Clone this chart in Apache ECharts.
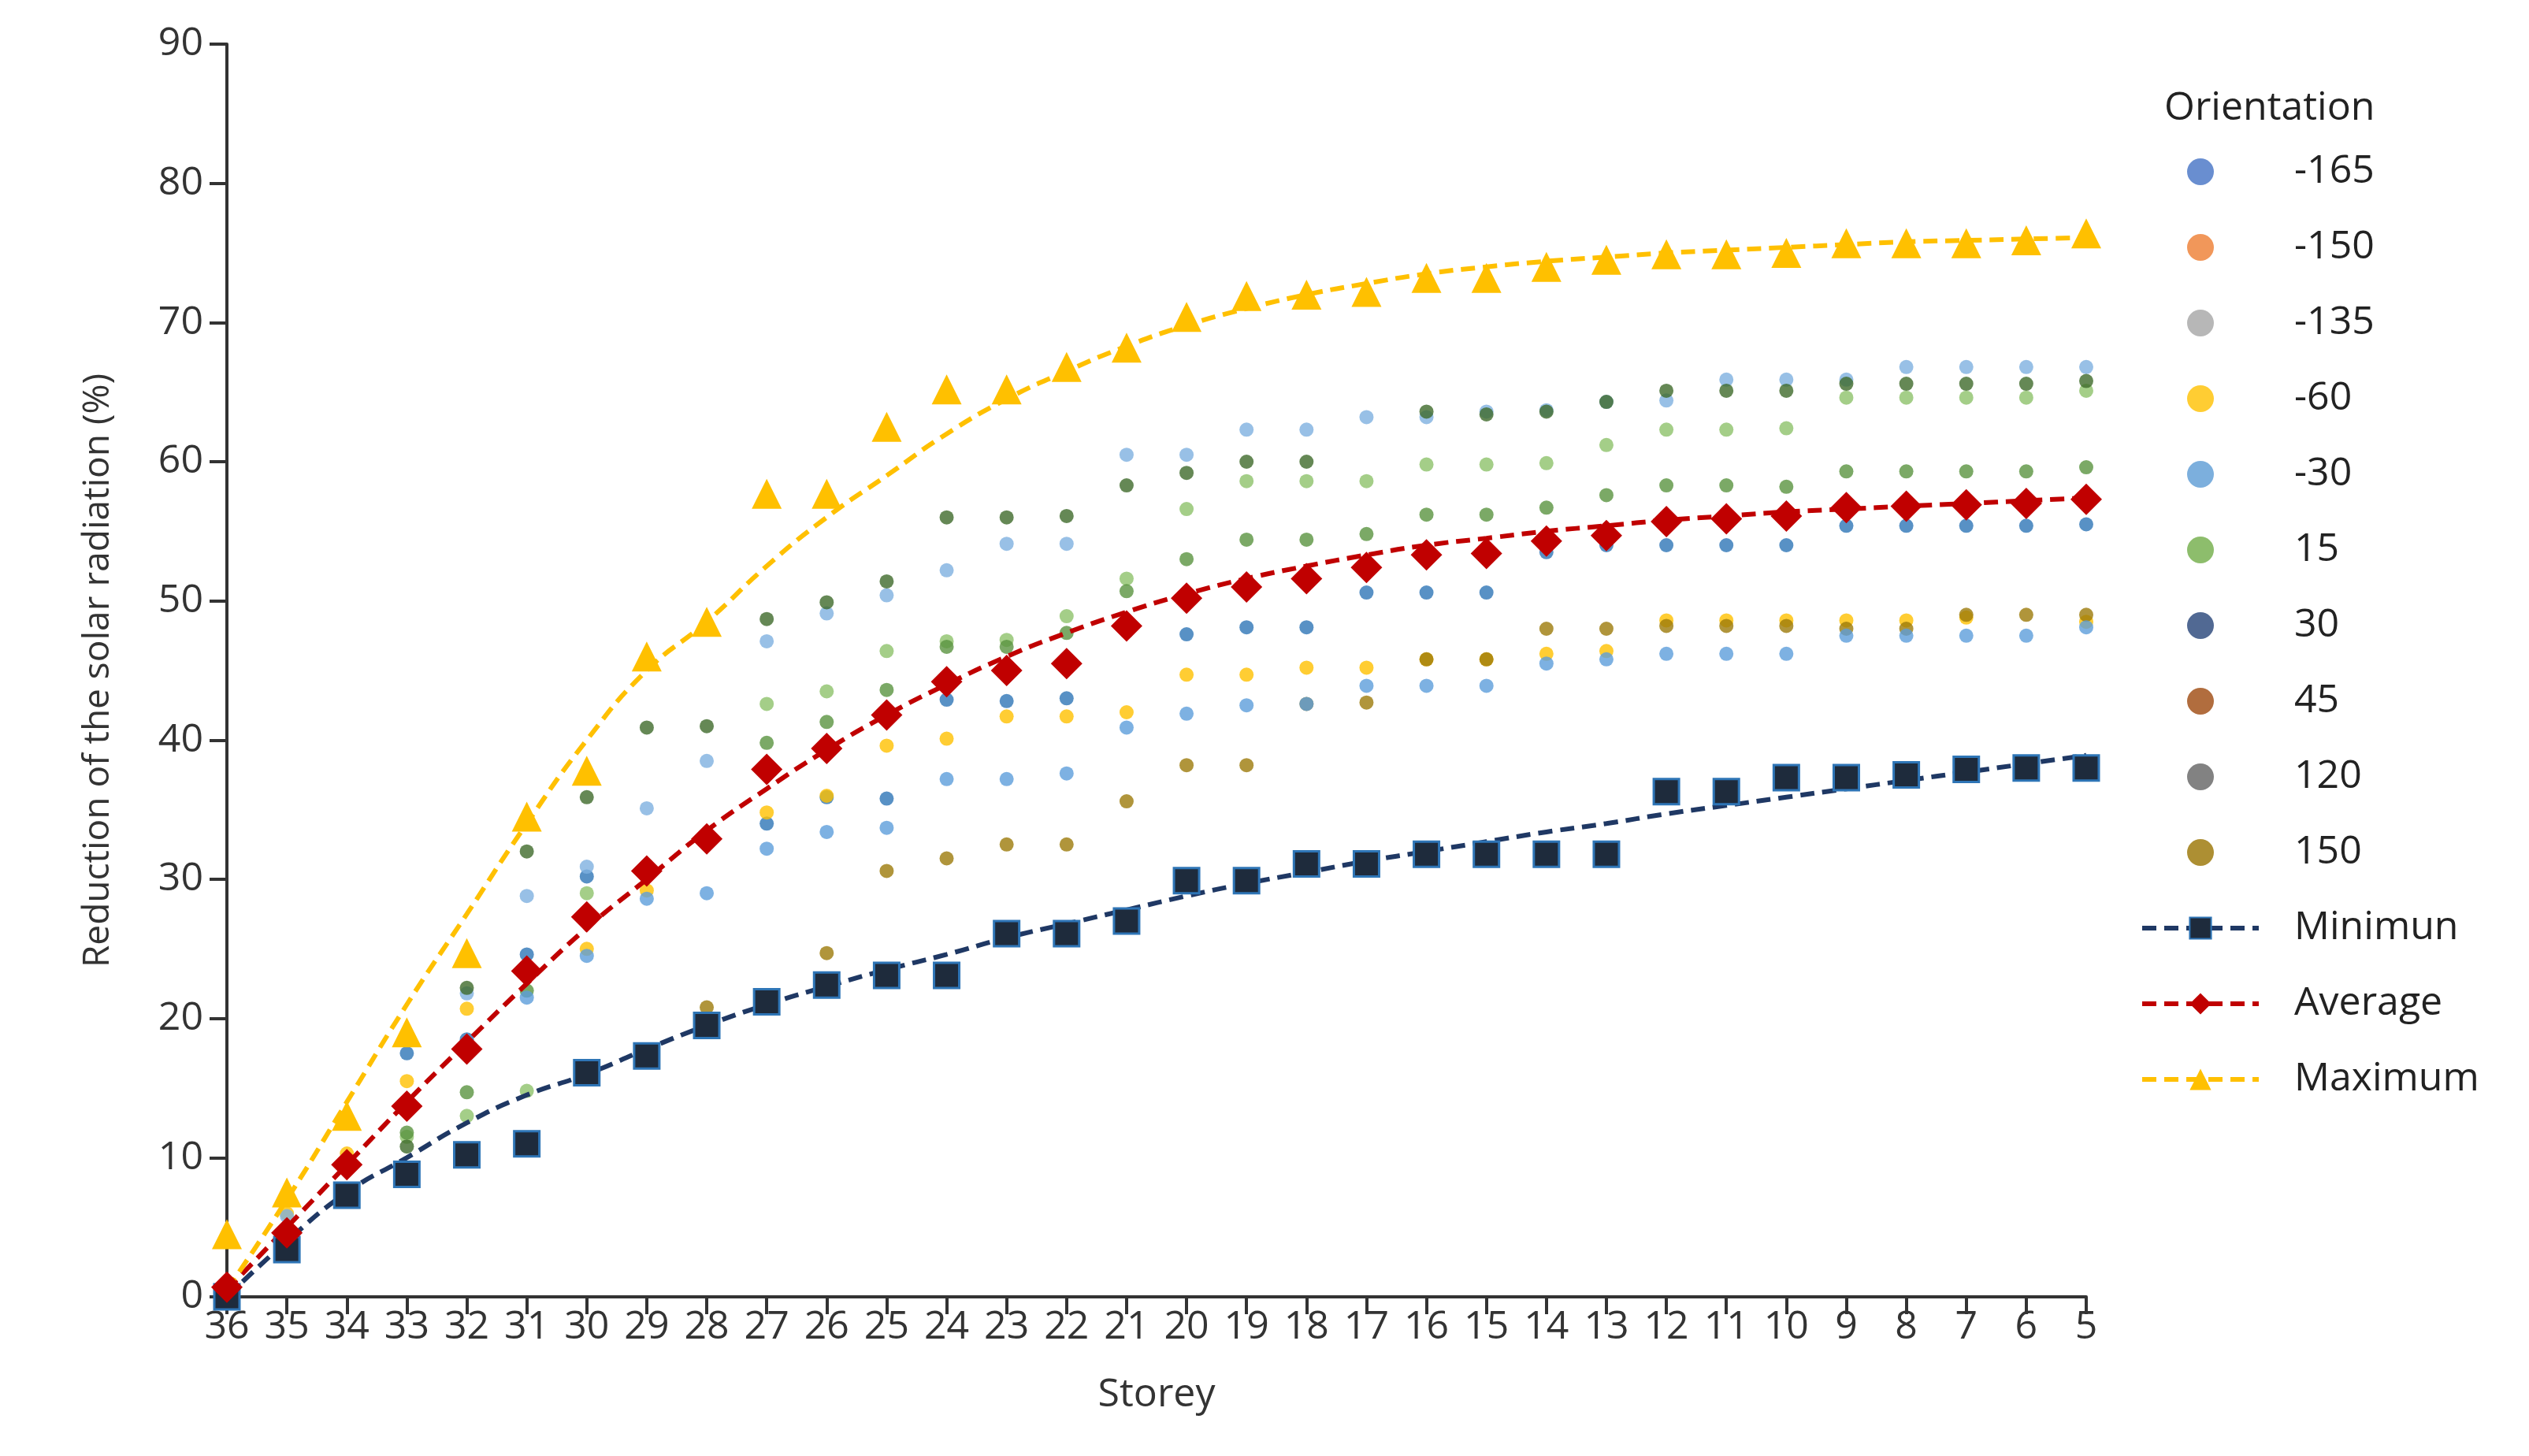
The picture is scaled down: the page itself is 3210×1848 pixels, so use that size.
<!DOCTYPE html>
<html><head><meta charset="utf-8">
<script src="https://cdn.jsdelivr.net/npm/echarts@6/dist/echarts.min.js"></script>
<style>html,body{margin:0;padding:0;background:#fff}#c{width:3210px;height:1848px}</style>
</head><body><div id="c"></div>
<script>
const storeys=['36','35','34','33','32','31','30','29','28','27','26','25','24','23','22','21','20','19','18','17','16','15','14','13','12','11','10','9','8','7','6','5'];
const yTicks=[0,10,20,30,40,50,60,70,80,90];
const lbHi=[null,5.8,null,null,21.8,28.8,30.9,35.1,38.5,47.1,49.1,50.4,52.2,54.1,54.1,60.5,60.5,62.3,62.3,63.2,63.2,63.6,63.7,64.3,64.4,65.9,65.9,65.9,66.8,66.8,66.8,66.8];
const dGreen=[null,null,null,10.8,22.2,32,35.9,40.9,41,48.7,49.9,51.4,56,56,56.1,58.3,59.2,60,60,null,63.6,63.4,63.6,64.3,65.1,65.1,65.1,65.6,65.6,65.6,65.6,65.8];
const lGreen=[null,null,null,11.5,13,14.8,29,31,null,42.6,43.5,46.4,47.1,47.2,48.9,51.6,56.6,58.6,58.6,58.6,59.8,59.8,59.9,61.2,62.3,62.3,62.4,64.6,64.6,64.6,64.6,65.1];
const mGreen=[null,null,null,11.8,14.7,22,null,null,33,39.8,41.3,43.6,46.7,46.7,47.7,50.7,53,54.4,54.4,54.8,56.2,56.2,56.7,57.6,58.3,58.3,58.2,59.3,59.3,59.3,59.3,59.6];
const blue=[null,null,null,17.5,18.5,24.6,30.2,null,null,34,35.9,35.8,42.9,42.8,43,47.8,47.6,48.1,48.1,50.6,50.6,50.6,53.5,54,54,54,54,55.4,55.4,55.4,55.4,55.5];
const gold=[null,6,10.3,15.5,20.7,null,25,29.2,null,34.8,36,39.6,40.1,41.7,41.7,42,44.7,44.7,45.2,45.2,45.8,45.8,46.2,46.4,48.6,48.6,48.6,48.6,48.6,48.8,null,48.5];
const lbLo=[null,null,null,null,null,21.5,24.5,28.6,29,32.2,33.4,33.7,37.2,37.2,37.6,40.9,41.9,42.5,42.6,43.9,43.9,43.9,45.5,45.8,46.2,46.2,46.2,47.5,47.5,47.5,47.5,48.1];
const olive=[null,null,null,null,null,null,null,null,20.8,null,24.7,30.6,31.5,32.5,32.5,35.6,38.2,38.2,42.6,42.7,45.8,45.8,48,48,48.2,48.2,48.2,48,48,49,49,49];
const minimum=[0,3.4,7.3,8.8,10.2,11,16.1,17.3,19.5,21.2,22.4,23.1,23.1,26.1,26.1,27,29.9,29.9,31.1,31.1,31.8,31.8,31.8,31.8,36.3,36.3,37.3,37.3,37.5,37.9,38,38];
const average=[0.7,4.6,9.5,13.7,17.8,23.4,27.3,30.6,32.9,37.9,39.4,41.8,44.2,45,45.5,48.2,50.2,51,51.6,52.4,53.3,53.4,54.3,54.7,55.7,55.9,56.1,56.7,56.8,56.9,57,57.3];
const maximum=[4.5,7.5,13,19,24.7,34.5,37.8,46,48.5,57.7,57.7,62.5,65.2,65.2,66.8,68.2,70.4,71.9,72,72.2,73.2,73.2,74,74.5,74.9,74.9,75,75.7,75.7,75.7,75.9,76.4];
const minTrend=[0,4,7.5,10,12.5,14.5,16,17.8,19.5,21,22.3,23.5,24.6,25.8,26.8,27.8,28.8,29.7,30.5,31.3,32,32.7,33.4,34,34.7,35.3,35.9,36.5,37.1,37.7,38.3,38.9];
const avgTrend=[0.5,5,9.5,14,18.3,22.5,26.5,30,33.5,36.5,39.3,41.8,44,46,47.7,49.2,50.5,51.6,52.5,53.3,54,54.5,55,55.4,55.8,56.1,56.4,56.6,56.8,57,57.2,57.4];
const maxTrend=[0.5,7,14,21,27.5,34,40,45,48.5,52.5,56,59,62,64.5,66.5,68.3,69.8,71,72,72.8,73.5,74,74.4,74.7,75,75.2,75.4,75.6,75.8,75.9,76,76.1];

const scat=[
 ['-165','#4472c4',blue,'#2e75b6'],
 ['-150','#ed7d31',[],'#ed7d31'],
 ['-135','#a5a5a5',[],'#a5a5a5'],
 ['-60','#ffc000',gold,'#ffc000'],
 ['-30','#5b9bd5',lbHi,'#7eb0e0'],
 ['15','#70ad47',lGreen,'#8dc26a'],
 ['30','#264478',mGreen,'#5a9440'],
 ['45','#9e480e',olive,'#9c7a0a'],
 ['120','#636363',dGreen,'#3f6a2a'],
 ['150','#997300',lbLo,'#5c9ddb']
];
const series=[];const legendData=[];
scat.forEach(s=>{
 series.push({name:s[0],type:'scatter',data:s[2],symbolSize:18,itemStyle:{color:s[3]},z:2});
 legendData.push({name:s[0],icon:'circle',itemStyle:{color:s[1]}});
});
const lines=[['Minimun','#1f3864','rect',32,minimum,minTrend,'#2e75b6','#1e2b3c',3],['Average','#c00000','diamond',40,average,avgTrend,'#c00000','#c00000',0],['Maximum','#ffc000','triangle',38,maximum,maxTrend,'#ffc000','#ffc000',0]];
lines.forEach(l=>{
 series.push({name:l[0],type:'line',data:l[4],symbol:l[2],symbolSize:l[3],lineStyle:{color:l[1],width:6,type:[18,10],opacity:0},
   itemStyle:{color:l[7],borderColor:l[6],borderWidth:l[8]},z:4});
 series.push({name:l[0]+' trend',type:'line',data:l[5],symbol:'none',smooth:true,lineStyle:{color:l[1],width:6,type:[18,10]},z:3,silent:true});
 legendData.push({name:l[0],lineStyle:{color:l[1],width:6,type:[18,10],opacity:1}});
});
const chart=echarts.init(document.getElementById('c'));
chart.setOption({
 animation:false,
 textStyle:{fontFamily:'Open Sans, Noto Sans, sans-serif'},
 title:{text:'Orientation',left:2742,top:108,textStyle:{fontSize:50,fontWeight:'normal',color:'#222',fontFamily:'Open Sans'}},
 legend:{orient:'vertical',left:2711,top:188,itemWidth:148,itemHeight:34,itemGap:46,data:legendData,
   textStyle:{fontSize:50,color:'#222',padding:[0,0,0,40]}},
 grid:{left:288,right:562,top:56,bottom:202,containLabel:false},
 xAxis:{type:'category',data:storeys,boundaryGap:false,name:'Storey',nameLocation:'middle',nameGap:100,
   nameTextStyle:{fontSize:50,color:'#333'},
   axisLine:{lineStyle:{color:'#333',width:4}},axisTick:{alignWithLabel:true,length:22,lineStyle:{width:4,color:'#333'}},
   axisLabel:{fontSize:50,color:'#333',margin:14,interval:0}},
 yAxis:{type:'value',min:0,max:90,interval:10,name:'Reduction of the solar radiation (%)',nameLocation:'middle',nameGap:140,
   nameTextStyle:{fontSize:46,color:'#333'},
   axisLine:{show:true,lineStyle:{color:'#333',width:4}},axisTick:{show:true,length:22,lineStyle:{width:4,color:'#333'}},
   axisLabel:{fontSize:50,color:'#333',margin:30},splitLine:{show:false}},
 series:series
});
</script></body></html>
